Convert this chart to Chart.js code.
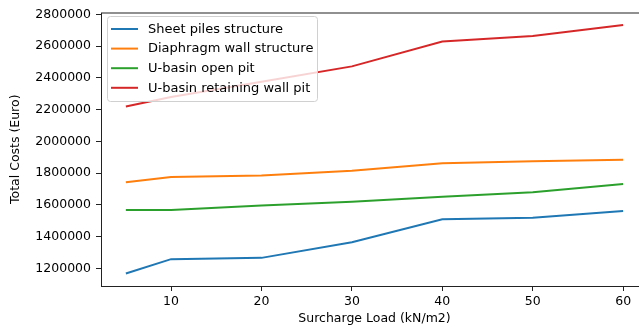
<!DOCTYPE html>
<html>
<head>
<meta charset="utf-8">
<script src="https://cdn.jsdelivr.net/npm/chart.js@4.4.1/dist/chart.umd.min.js"></script>
<style>
  html, body { margin: 0; padding: 0; background: #fff; overflow: hidden; }
  #wrap { width: 650px; height: 329px; }
</style>
</head>
<body>
<div id="wrap"><canvas id="costChart" width="650" height="329"></canvas></div>
<script>
// surcharge loads (kN/m2)
const loads = [5, 10, 20, 30, 40, 50, 60];

// total costs per variant (Euro)
const sheetPiles = [1167000, 1258000, 1266000, 1365000, 1509000, 1519000, 1561000];
const diaphragmWall = [1743000, 1775000, 1785000, 1815000, 1863000, 1875000, 1885000];
const openPit = [1568000, 1567000, 1596000, 1619000, 1652000, 1680000, 1731000];
const retainingWallPit = [2220000, 2280000, 2376000, 2473000, 2630000, 2665000, 2734000];

const seriesNames = ['Sheet piles structure', 'Diaphragm wall structure', 'U-basin open pit', 'U-basin retaining wall pit'];
const seriesColors = ['#1f77b4', '#ff7f0e', '#2ca02c', '#d62728'];

const xTicks = [10, 20, 30, 40, 50, 60];
const yTicks = [1200000, 1400000, 1600000, 1800000, 2000000, 2200000, 2400000, 2600000, 2800000];

const FONT = 'DejaVu Sans';

function toPoints(values) {
    return loads.map((x, i) => ({ x: x, y: values[i] }));
}

// frame round the plot area, like matplotlib spines
const frame = {
    id: 'frame',
    afterDatasetsDraw(chart) {
        const a = chart.chartArea;
        const ctx = chart.ctx;
        ctx.save();
        ctx.strokeStyle = '#222';
        ctx.lineWidth = 1;
        ctx.strokeRect(a.left + 0.5, a.top + 0.5, a.right - a.left, a.bottom - a.top);
        ctx.restore();
    }
};

// legend box inside the axes, upper left
const innerLegend = {
    id: 'innerLegend',
    afterDatasetsDraw(chart) {
        const ctx = chart.ctx;
        const x = 107, y = 16, w = 210, h = 85;
        ctx.save();
        ctx.beginPath();
        ctx.roundRect(x + 0.5, y + 0.5, w, h, 3);
        ctx.fillStyle = 'rgba(255,255,255,0.8)';
        ctx.fill();
        ctx.strokeStyle = '#d0d0d0';
        ctx.lineWidth = 1;
        ctx.stroke();
        ctx.font = '13px "' + FONT + '"';
        ctx.textBaseline = 'middle';
        ctx.fillStyle = '#000';
        chart.data.datasets.forEach((ds, i) => {
            const rowY = 29 + i * 19.6;
            ctx.strokeStyle = ds.borderColor;
            ctx.lineWidth = 2;
            ctx.beginPath();
            ctx.moveTo(111, rowY);
            ctx.lineTo(138, rowY);
            ctx.stroke();
            ctx.fillText(ds.label, 148, rowY + 0.5);
        });
        ctx.restore();
    }
};

const ctx = document.getElementById('costChart').getContext('2d');
const costChart = new Chart(ctx, {
    type: 'line',
    data: {
        datasets: [sheetPiles, diaphragmWall, openPit, retainingWallPit].map((vals, i) => ({
            label: seriesNames[i],
            data: toPoints(vals),
            borderColor: seriesColors[i],
            backgroundColor: seriesColors[i],
            borderWidth: 2,
            pointRadius: 0,
            fill: false,
            tension: 0
        }))
    },
    options: {
        responsive: false,
        animation: false,
        layout: { padding: { top: 12, right: 2, left: 0, bottom: 0 } },
        plugins: {
            legend: { display: false },
            tooltip: { enabled: false }
        },
        scales: {
            x: {
                type: 'linear',
                min: 2.25,
                max: 62.75,
                afterBuildTicks: s => { s.ticks = xTicks.map(v => ({ value: v })); },
                afterFit: s => { s.height = 43; },
                grid: { display: true, drawOnChartArea: false, drawTicks: true, tickLength: 5, color: '#222' },
                border: { display: false },
                ticks: { color: '#000', padding: 3, font: { family: FONT, size: 12.5 }, maxRotation: 0 },
                title: { display: true, text: 'Surcharge Load (kN/m2)', color: '#000', font: { family: FONT, size: 12.5 }, padding: { top: 0, bottom: 3 } }
            },
            y: {
                type: 'linear',
                min: 1088700,
                max: 2812600,
                afterBuildTicks: s => { s.ticks = yTicks.map(v => ({ value: v })); },
                afterFit: s => { s.width = 101; },
                grid: { display: true, drawOnChartArea: false, drawTicks: true, tickLength: 5, color: '#222' },
                border: { display: false },
                ticks: { color: '#000', padding: 5, font: { family: FONT, size: 12.5 }, callback: v => String(v) },
                title: { display: true, text: 'Total Costs (Euro)', color: '#000', font: { family: FONT, size: 12.5 }, padding: { top: 8, bottom: 0 } }
            }
        }
    },
    plugins: [frame, innerLegend]
});
</script>
</body>
</html>
